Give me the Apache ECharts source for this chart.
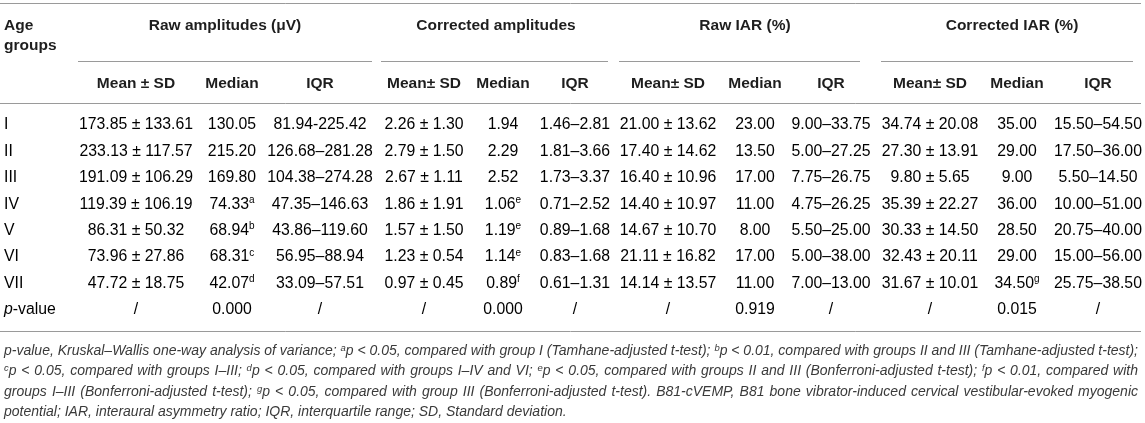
<!DOCTYPE html>
<html>
<head>
<meta charset="utf-8">
<script src="https://cdn.jsdelivr.net/npm/echarts@6/dist/echarts.min.js"></script>
<style>
html, body { margin: 0; padding: 0; background: #fff; }
#chart { width: 1145px; height: 423px; }
</style>
</head>
<body>
<div id="chart"></div>
<script>
// 表格数据
const groups = ['I', 'II', 'III', 'IV', 'V', 'VI', 'VII', 'p-value'];

const blockTitles = ['Raw amplitudes (\u03bcV)', 'Corrected amplitudes', 'Raw IAR (%)', 'Corrected IAR (%)'];
const subTitles = ['Mean \u00b1 SD', 'Median', 'IQR', 'Mean\u00b1 SD', 'Median', 'IQR',
                   'Mean\u00b1 SD', 'Median', 'IQR', 'Mean\u00b1 SD', 'Median', 'IQR'];

const rawMeanSd = ['173.85 \u00b1 133.61', '233.13 \u00b1 117.57', '191.09 \u00b1 106.29', '119.39 \u00b1 106.19',
                   '86.31 \u00b1 50.32', '73.96 \u00b1 27.86', '47.72 \u00b1 18.75', '/'];
const rawMedian = ['130.05', '215.20', '169.80', '74.33', '68.94', '68.31', '42.07', '0.000'];
const rawMedianSup = ['', '', '', 'a', 'b', 'c', 'd', ''];
const rawIqr = ['81.94-225.42', '126.68\u2013281.28', '104.38\u2013274.28', '47.35\u2013146.63',
                '43.86\u2013119.60', '56.95\u201388.94', '33.09\u201357.51', '/'];

const corrMeanSd = ['2.26 \u00b1 1.30', '2.79 \u00b1 1.50', '2.67 \u00b1 1.11', '1.86 \u00b1 1.91',
                    '1.57 \u00b1 1.50', '1.23 \u00b1 0.54', '0.97 \u00b1 0.45', '/'];
const corrMedian = ['1.94', '2.29', '2.52', '1.06', '1.19', '1.14', '0.89', '0.000'];
const corrMedianSup = ['', '', '', 'e', 'e', 'e', 'f', ''];
const corrIqr = ['1.46\u20132.81', '1.81\u20133.66', '1.73\u20133.37', '0.71\u20132.52',
                 '0.89\u20131.68', '0.83\u20131.68', '0.61\u20131.31', '/'];

const rawIarMeanSd = ['21.00 \u00b1 13.62', '17.40 \u00b1 14.62', '16.40 \u00b1 10.96', '14.40 \u00b1 10.97',
                      '14.67 \u00b1 10.70', '21.11 \u00b1 16.82', '14.14 \u00b1 13.57', '/'];
const rawIarMedian = ['23.00', '13.50', '17.00', '11.00', '8.00', '17.00', '11.00', '0.919'];
const rawIarIqr = ['9.00\u201333.75', '5.00\u201327.25', '7.75\u201326.75', '4.75\u201326.25',
                   '5.50\u201325.00', '5.00\u201338.00', '7.00\u201313.00', '/'];

const corrIarMeanSd = ['34.74 \u00b1 20.08', '27.30 \u00b1 13.91', '9.80 \u00b1 5.65', '35.39 \u00b1 22.27',
                       '30.33 \u00b1 14.50', '32.43 \u00b1 20.11', '31.67 \u00b1 10.01', '/'];
const corrIarMedian = ['35.00', '29.00', '9.00', '36.00', '28.50', '29.00', '34.50', '0.015'];
const corrIarMedianSup = ['', '', '', '', '', '', 'g', ''];
const corrIarIqr = ['15.50\u201354.50', '17.50\u201336.00', '5.50\u201314.50', '10.00\u201351.00',
                    '20.75\u201340.00', '15.00\u201356.00', '25.75\u201338.50', '/'];

const footnotes = [
    'p-value, Kruskal\u2013Wallis one-way analysis of variance; {s|a}p < 0.05, compared with group I (Tamhane-adjusted t-test); {s|b}p < 0.01, compared with groups II and III (Tamhane-adjusted t-test);',
    '{s|c}p < 0.05, compared with groups I\u2013III; {s|d}p < 0.05, compared with groups I\u2013IV and VI; {s|e}p < 0.05, compared with groups II and III (Bonferroni-adjusted t-test); {s|f}p < 0.01, compared with',
    'groups I\u2013III (Bonferroni-adjusted t-test); {s|g}p < 0.05, compared with group III (Bonferroni-adjusted t-test). B81-cVEMP, B81 bone vibrator-induced cervical vestibular-evoked myogenic',
    'potential; IAR, interaural asymmetry ratio; IQR, interquartile range; SD, Standard deviation.'
];

// 版式
const W = 1145;
const colX = [4, 136, 232, 320, 424, 503, 575, 668, 755, 831, 930, 1017, 1098];
const blockX = [225, 496, 745, 1012];
const blockRule = [[78, 372], [381, 608], [619, 860], [881, 1133]];
const FONT = '"Liberation Sans", Arial, Helvetica, sans-serif';
const TXT = '#3a3a3a';
const HEAD = '#1e1e1e';
const RULE = '#9a9a9a';
const NOTE_SIZE = 14;
const SUP_SIZE = 9.5;

const cellRich = {
    v: { fontSize: 15.8, fontFamily: FONT, color: TXT, lineHeight: 18 },
    it: { fontSize: 15.8, fontFamily: FONT, fontStyle: 'italic', color: TXT, lineHeight: 18 },
    s: { fontSize: 10, fontFamily: FONT, color: TXT, verticalAlign: 'top', lineHeight: 18 }
};

function withSup(vals, sups) {
    return vals.map((v, i) => sups && sups[i] ? '{v|' + v + '}{s|' + sups[i] + '}' : '{v|' + v + '}');
}

const columns = [
    groups.map(g => g === 'p-value' ? '{it|p}{v|-value}' : '{v|' + g + '}'),
    withSup(rawMeanSd), withSup(rawMedian, rawMedianSup), withSup(rawIqr),
    withSup(corrMeanSd), withSup(corrMedian, corrMedianSup), withSup(corrIqr),
    withSup(rawIarMeanSd), withSup(rawIarMedian), withSup(rawIarIqr),
    withSup(corrIarMeanSd), withSup(corrIarMedian, corrIarMedianSup), withSup(corrIarIqr)
];

const cellData = [];
const cellText = [];
columns.forEach((col, c) => {
    col.forEach((t, r) => {
        cellData.push([colX[c], r, c]);
        cellText.push(t);
    });
});

// 表头与线
const graphics = [];
function hline(x1, x2, y) {
    graphics.push({ type: 'line', shape: { x1: x1, y1: y + 0.5, x2: x2, y2: y + 0.5 },
        style: { stroke: RULE, lineWidth: 1 }, silent: true });
}
function headText(text, x, y, align) {
    graphics.push({ type: 'text', x: x, y: y, silent: true,
        style: { text: text, font: 'bold 15.5px ' + FONT, fill: HEAD,
                 align: align, textAlign: align, verticalAlign: 'middle', textVerticalAlign: 'middle' } });
}
hline(0, 1141, 3);
hline(0, 1141, 103);
hline(0, 1141, 331);
blockRule.forEach(r => hline(r[0], r[1], 61));
headText('Age', 4, 26, 'left');
headText('groups', 4, 46, 'left');
blockTitles.forEach((t, i) => headText(t, blockX[i], 26, 'center'));
subTitles.forEach((t, i) => headText(t, colX[i + 1], 84, 'center'));

// 脚注：前三行两端对齐
const ctx = document.createElement('canvas').getContext('2d');
function wordWidth(word) {
    let w = 0;
    word.split(/(\{s\|[a-z]\})/).forEach(part => {
        if (!part) return;
        const m = part.match(/^\{s\|([a-z])\}$/);
        if (m) {
            ctx.font = 'italic ' + SUP_SIZE + 'px ' + FONT;
            w += ctx.measureText(m[1]).width;
        } else {
            ctx.font = 'italic ' + NOTE_SIZE + 'px ' + FONT;
            w += ctx.measureText(part).width;
        }
    });
    return w;
}
const noteLeft = 4, noteRight = 1138;
const noteRich = { s: { fontSize: SUP_SIZE, fontStyle: 'italic', fontFamily: FONT, color: TXT, verticalAlign: 'top', lineHeight: 16 } };
footnotes.forEach((line, i) => {
    const y = 351 + i * 20.5;
    const justify = i < footnotes.length - 1;
    const words = line.split(' ');
    const widths = words.map(wordWidth);
    const total = widths.reduce((a, b) => a + b, 0);
    const gap = justify ? (noteRight - noteLeft - total) / (words.length - 1) : wordWidth(' ');
    let x = noteLeft;
    words.forEach((wd, k) => {
        graphics.push({ type: 'text', x: x, y: y, silent: true,
            style: { text: wd, font: 'italic ' + NOTE_SIZE + 'px ' + FONT, fill: TXT,
                     verticalAlign: 'middle', textVerticalAlign: 'middle', rich: noteRich } });
        x += widths[k] + gap;
    });
});

const chart = echarts.init(document.getElementById('chart'), null, { renderer: 'canvas' });
chart.setOption({
    backgroundColor: '#fff',
    animation: false,
    grid: { left: 0, right: 0, top: 111.8, bottom: 99.8 },
    xAxis: { type: 'value', min: 0, max: W, show: false },
    yAxis: { type: 'category', data: groups, inverse: true, show: false },
    graphic: { elements: graphics },
    series: [{
        type: 'custom',
        data: cellData,
        encode: { x: 0, y: 1 },
        renderItem: function (params, api) {
            const c = api.value(2);
            const pt = api.coord([api.value(0), api.value(1)]);
            return {
                type: 'text',
                x: pt[0],
                y: pt[1],
                style: {
                    text: cellText[params.dataIndex],
                    align: c === 0 ? 'left' : 'center',
                    verticalAlign: 'middle',
                    rich: cellRich
                }
            };
        }
    }]
});
</script>
</body>
</html>
